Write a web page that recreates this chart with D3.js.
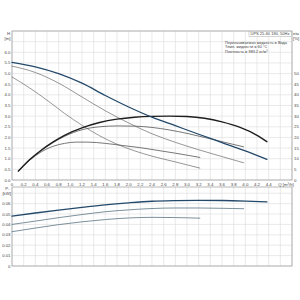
<!DOCTYPE html>
<html><head><meta charset="utf-8">
<script src="https://cdn.jsdelivr.net/npm/d3@7"></script>
<style>body{margin:0;background:#fff}svg{display:block}text{font-family:"Liberation Sans",Arial,sans-serif;fill:#444}</style>
</head><body><svg id="c" width="300" height="300"></svg>
<script>
const qTicks = [0,0.2,0.4,0.6,0.8,1.0,1.2,1.4,1.6,1.8,2.0,2.2,2.4,2.6,2.8,3.0,3.2,3.4,3.6,3.8,4.0,4.2,4.4];
const hTicks = [0,0.5,1,1.5,2,2.5,3,3.5,4,4.5,5,5.5,6];
const etaTicks = [0,5,10,15,20,25,30,35,40,45,50];
const pTicks = [0,0.01,0.02,0.03,0.04,0.05,0.06];

const qH3 = [0,0.4,0.8,1.2,1.6,2.0,2.4,2.8,3.2,3.6,4.0,4.37];
const h3  = [5.53,5.32,5.0,4.55,3.97,3.43,2.95,2.55,2.15,1.76,1.37,0.97];
const qH2 = [0,0.4,0.8,1.2,1.6,2.0,2.4,2.8,3.2,3.6,3.97];
const h2  = [5.35,5.05,4.55,3.9,3.25,2.68,2.17,1.77,1.42,1.1,0.81];
const qH1 = [0,0.3,0.6,0.9,1.2,1.5,1.8,2.1,2.4,2.8,3.22];
const h1  = [4.84,4.33,3.75,3.13,2.57,2.08,1.68,1.37,1.12,0.85,0.56];

const qE3 = [0.11,0.3,0.5,0.7,0.9,1.2,1.5,1.8,2.1,2.4,2.7,3.0,3.3,3.6,3.9,4.2,4.37];
const e3  = [4.2,9.5,14,17.8,21,24.5,27,28.6,29.5,29.9,30.0,29.8,29.0,27.3,24.8,21,18];
const qE2 = [0.11,0.3,0.5,0.7,0.9,1.2,1.5,1.8,2.1,2.4,2.7,3.0,3.3,3.6,3.97];
const e2  = [4.2,9.4,13.8,17.5,20.5,23.6,25,25.4,25.3,24.7,23.5,21.9,20,18,15.6];
const qE1 = [0.11,0.3,0.5,0.7,0.9,1.1,1.3,1.6,1.9,2.2,2.5,2.8,3.22];
const e1  = [4.2,9.2,13.2,15.8,17.2,17.8,17.8,17.2,16.2,15.2,13.9,12.6,10.6];

const qP3 = [0,0.4,0.8,1.2,1.6,2.0,2.4,2.8,3.2,3.6,4.0,4.37];
const p3  = [0.048,0.051,0.0538,0.0564,0.0589,0.0608,0.0623,0.0629,0.0631,0.063,0.0625,0.0617];
const qP2 = [0,0.4,0.8,1.2,1.6,2.0,2.4,2.8,3.2,3.6,3.97];
const p2  = [0.040,0.0432,0.0465,0.0495,0.0522,0.054,0.0553,0.0558,0.0558,0.0555,0.0551];
const qP1 = [0,0.4,0.8,1.2,1.6,2.0,2.4,2.8,3.22];
const p1  = [0.033,0.0365,0.0398,0.0425,0.0447,0.0462,0.0468,0.0466,0.046];

const titleText = "UPS 25-60 180, 50Hz";
const infoLines = ["Перекачиваемая жидкость = Вода","Темп. жидкости = 60 °C","Плотность = 983.2 кг/м³"];

const svg = d3.select("#c");
const L=12, R=292, T1=31, B1=180, T2=187, B2=266;
const x = d3.scaleLinear().domain([0,4.8]).range([L,R]);
const y = d3.scaleLinear().domain([0,7]).range([B1,T1]);
const yE = d3.scaleLinear().domain([0,70]).range([B1,T1]);
const yP = d3.scaleLinear().domain([0,0.076]).range([B2,T2]);
const gridQ = d3.range(0,4.81,0.2);
const grid = svg.append("g").attr("stroke","#dcdcdc").attr("stroke-width",0.6);
gridQ.forEach(q=>{
  grid.append("line").attr("x1",x(q)).attr("x2",x(q)).attr("y1",T1).attr("y2",B1);
  grid.append("line").attr("x1",x(q)).attr("x2",x(q)).attr("y1",T2).attr("y2",B2);
});
d3.range(0,7.01,0.5).forEach(h=>grid.append("line").attr("x1",L).attr("x2",R).attr("y1",y(h)).attr("y2",y(h)));
d3.range(0,0.0751,0.01).forEach(p=>grid.append("line").attr("x1",L).attr("x2",R).attr("y1",yP(p)).attr("y2",yP(p)));
svg.append("rect").attr("x",L).attr("y",T1).attr("width",R-L).attr("height",B1-T1).attr("fill","none").attr("stroke","#999").attr("stroke-width",0.7);
svg.append("rect").attr("x",L).attr("y",T2).attr("width",R-L).attr("height",B2-T2).attr("fill","none").attr("stroke","#999").attr("stroke-width",0.7);

const fs = 4.3;
const ax = svg.append("g").attr("font-size",fs);
qTicks.forEach(q=>ax.append("text").attr("x",x(q)).attr("y",185.5).attr("text-anchor","middle").text(q===0?"0":q.toFixed(1)));
ax.append("text").attr("x",286).attr("y",185.5).attr("text-anchor","middle").text("Q [m³/h]");
hTicks.forEach(h=>ax.append("text").attr("x",10.5).attr("y",y(h)+1.5).attr("text-anchor","end").text(h.toFixed(1)));
ax.append("text").attr("x",10).attr("y",34.5).attr("text-anchor","end").text("H");
ax.append("text").attr("x",10.5).attr("y",40).attr("text-anchor","end").text("[m]");
etaTicks.forEach(e=>ax.append("text").attr("x",294).attr("y",yE(e)+1.5).text(e));
ax.append("text").attr("x",293).attr("y",34.5).text("eta");
ax.append("text").attr("x",293).attr("y",40).text("[%]");
pTicks.forEach(p=>ax.append("text").attr("x",10.5).attr("y",yP(p)+1.5).attr("text-anchor","end").text(p===0?"0":p.toFixed(2)));
ax.append("text").attr("x",9.5).attr("y",190).attr("text-anchor","end").text("P₁");
ax.append("text").attr("x",11).attr("y",195).attr("text-anchor","end").text("[kW]");

svg.append("rect").attr("x",249).attr("y",31.3).attr("width",42.5).attr("height",5.4).attr("fill","#fff").attr("stroke","#aaa").attr("stroke-width",0.5);
svg.append("text").attr("x",270).attr("y",35.4).attr("text-anchor","middle").attr("font-size",4).text(titleText);
infoLines.forEach((t,i)=>svg.append("text").attr("x",225).attr("y",43.5+i*4.8).attr("font-size",3.9).text(t));

function draw(qs,vs,ys,col,w){
  const line=d3.line().x(d=>x(d[0])).y(d=>ys(d[1])).curve(d3.curveMonotoneX);
  svg.append("path").attr("d",line(qs.map((q,i)=>[q,vs[i]]))).attr("fill","none").attr("stroke",col).attr("stroke-width",w).attr("stroke-linecap","round");
}
draw(qH1,h1,y,"#6a6a6a",0.7);
draw(qH2,h2,y,"#6a6a6a",0.7);
draw(qE1,e1,yE,"#555",0.8);
draw(qE2,e2,yE,"#555",0.8);
draw(qE3,e3,yE,"#1e1e1e",1.4);
draw(qH3,h3,y,"#23496b",1.3);
draw(qP1,p1,yP,"#5b7582",0.8);
draw(qP2,p2,yP,"#5b7582",0.8);
draw(qP3,p3,yP,"#23496b",1.3);
</script></body></html>
